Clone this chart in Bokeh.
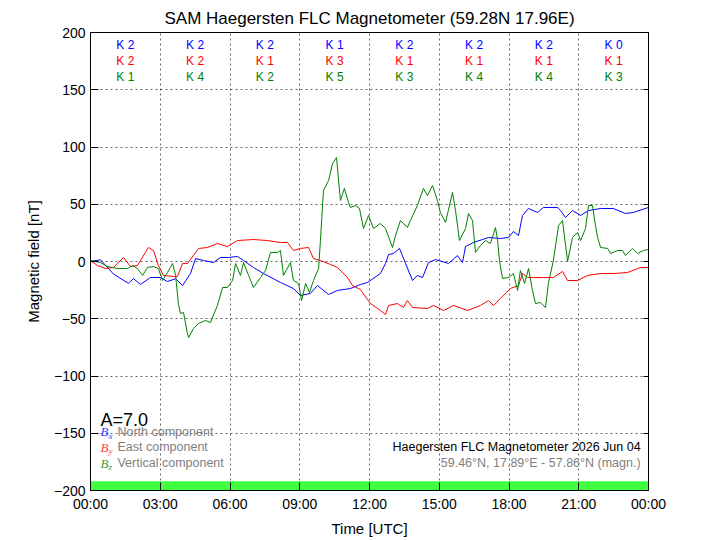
from bokeh.plotting import figure
from bokeh.models import Range1d, FixedTicker, LinearAxis, ColumnDataSource, CustomJSTickFormatter
from bokeh.core.properties import value
from bokeh.embed import file_html
from bokeh.resources import INLINE

# ---------------- data ----------------
title_text = "SAM Haegersten FLC Magnetometer (59.28N 17.96E)"

x_tick_values = [0, 3, 6, 9, 12, 15, 18, 21, 24]
x_tick_labels = ["00:00", "03:00", "06:00", "09:00", "12:00", "15:00", "18:00", "21:00", "00:00"]
y_tick_values = [-200, -150, -100, -50, 0, 50, 100, 150, 200]
y_tick_labels = ["\u2212200", "\u2212150", "\u2212100", "\u221250", "0", "50", "100", "150", "200"]

# North component (Bx)
bx_hours = [0.0, 0.43, 0.99, 1.63, 1.85, 2.15, 2.58, 3.01, 3.31, 3.66, 3.96, 4.30, 4.52, 4.86,
            5.29, 5.59, 5.94, 6.32, 6.58, 7.01, 7.44, 8.17, 8.73, 9.03, 9.46, 9.76, 10.24,
            10.62, 11.18, 11.61, 11.91, 12.47, 12.69, 12.82, 13.03, 13.29, 13.55, 13.85,
            14.06, 14.28, 14.54, 14.84, 15.40, 15.78, 16.00, 16.13, 16.47, 16.86, 17.12,
            17.63, 17.98, 18.19, 18.41, 18.58, 18.84, 19.23, 19.48, 20.09, 20.22, 20.43,
            20.73, 21.08, 21.42, 21.94, 22.49, 23.01, 23.35, 24.0]
bx_values = [0.0, 1.5, -11.0, -19.0, -15.0, -20.0, -14.0, -14.0, -17.5, -15.0, -21.0, -10.5, 2.6, 0.9,
             -0.9, 3.5, 3.5, 4.4, 0.9, -5.2, -10.5, -18.3, -23.6, -29.7, -27.9, -21.0, -28.8,
             -25.3, -23.6, -20.1, -18.3, -10.5, -1.7, 6.1, 7.0, 11.4, -1.7, -16.6,
             -12.2, -14.0, -0.9, 1.7, -1.7, 5.2, -0.9, 13.1, 16.6, 19.2, 21.0,
             20.1, 21.0, 26.2, 22.7, 40.2, 46.3, 42.8, 47.2, 47.2, 44.5, 38.4,
             44.5, 40.2, 44.5, 46.3, 46.3, 41.9, 42.8, 47.2]

# East component (By)
by_hours = [0.0, 0.30, 0.65, 0.99, 1.42, 1.72, 2.02, 2.49, 2.71, 2.92, 3.14, 3.57, 3.74, 3.96,
            4.17, 4.65, 5.03, 5.46, 5.89, 6.32, 7.01, 7.61, 8.17, 8.47, 8.73, 9.03, 9.38,
            9.59, 9.89, 10.32, 10.62, 11.05, 11.27, 11.61, 12.04, 12.47, 12.69, 12.82, 13.20,
            13.46, 13.63, 13.85, 14.49, 14.75, 15.18, 15.61, 16.22, 16.77, 17.12, 17.33,
            17.63, 18.06, 18.41, 18.58, 18.80, 19.05, 19.48, 19.91, 20.30, 20.52, 20.95,
            21.38, 21.94, 22.49, 23.10, 23.66, 24.0]
by_values = [0.9, -3.5, -6.1, -5.2, 3.5, -4.4, -3.5, 12.2, 9.6, -3.5, -12.2, -13.1, -13.1, -1.7,
             -1.7, 11.4, 12.2, 15.7, 13.1, 18.3, 19.2, 18.3, 16.6, 16.6, 9.6, 11.4, 12.2,
             2.6, 0.9, -2.6, -5.2, -14.0, -21.0, -24.5, -36.7, -42.8, -46.3, -38.4, -36.7,
             -40.2, -34.1, -40.2, -41.0, -38.4, -42.8, -38.4, -42.8, -38.4, -34.1, -38.4,
             -32.3, -23.6, -21.0, -10.5, -14.0, -14.0, -14.0, -14.0, -8.7, -16.6, -16.6,
             -12.2, -10.5, -10.5, -9.6, -5.2, -5.2]

# Vertical component (Bz)
bz_hours = [0.0, 0.43, 0.73, 1.16, 1.59, 1.81, 2.02, 2.24, 2.45, 2.71, 2.92, 3.10, 3.31, 3.53,
            3.66, 3.78, 3.87, 4.00, 4.17, 4.22, 4.43, 4.65, 4.95, 5.16, 5.46, 5.68, 5.89,
            6.11, 6.24, 6.45, 6.58, 6.80, 7.01, 7.31, 7.53, 7.74, 8.04, 8.17, 8.30, 8.60,
            8.73, 8.95, 9.08, 9.25, 9.42, 9.59, 9.81, 9.89, 10.02, 10.24, 10.41, 10.58,
            10.75, 10.92, 11.10, 11.18, 11.40, 11.57, 11.74, 11.96, 12.17, 12.47, 12.69,
            12.99, 13.12, 13.33, 13.63, 13.76, 14.06, 14.32, 14.49, 14.71, 14.92, 15.05,
            15.27, 15.57, 15.70, 15.87, 16.13, 16.26, 16.43, 16.56, 16.77, 16.99, 17.20,
            17.42, 17.51, 17.59, 17.72, 17.98, 18.19, 18.37, 18.49, 18.67, 18.84, 19.01,
            19.14, 19.35, 19.57, 19.70, 19.91, 20.13, 20.30, 20.52, 20.73, 20.95, 21.08,
            21.29, 21.42, 21.59, 21.72, 21.81, 21.94, 22.24, 22.37, 22.67, 22.88, 23.01,
            23.31, 23.53, 23.78, 24.0]
bz_values = [0.9, -0.9, -4.4, -6.1, -6.1, -3.5, -6.1, -12.2, -5.2, -4.4, -6.1, -16.6, -9.6, -1.7,
             -12.2, -36.7, -45.4, -44.5, -62.9, -66.4, -58.5, -54.1, -51.5, -53.3, -38.4, -22.7, -22.7,
             -16.6, -1.7, -12.2, -0.9, -12.2, -22.7, -14.0, -7.9, 7.9, 7.9, 9.6, -12.2, -0.9,
             -16.6, -19.2, -34.1, -19.2, -27.1, -16.6, -6.1, 18.3, 62.0, 70.7, 85.6, 90.8,
             53.3, 63.8, 51.5, 47.2, 48.9, 46.3, 28.8, 40.2, 28.8, 33.2, 28.8,
             12.2, 22.7, 35.8, 29.7, 35.8, 48.9, 63.8, 57.6, 66.4, 53.3, 42.8,
             34.1, 60.3, 44.5, 18.3, 28.8, 41.9, 35.8, 7.9, 14.0, 18.3, 15.7,
             29.7, 18.3, 0.9, -14.8, -14.0, -10.5, -25.3, -7.9, -19.2, -6.1, -25.3,
             -36.7, -35.8, -40.2, -18.3, 0.9, 31.4, 35.8, 0.0, 21.0, 25.3, 18.3,
             28.8, 48.9, 48.9, 31.4, 21.0, 12.2, 11.4, 7.0, 9.6, 9.6, 5.2,
             11.4, 7.0, 9.6, 10.5]

# K indices per 3-hour interval
k_north = [2, 2, 2, 1, 2, 2, 2, 0]
k_east = [2, 2, 1, 3, 1, 1, 1, 1]
k_vertical = [1, 4, 2, 5, 3, 4, 4, 3]

a_index_text = "A=7.0"
legend_labels = ["North component", "East component", "Vertical component"]
legend_subscripts = ["x", "y", "z"]
station_line1 = "Haegersten FLC Magnetometer 2026 Jun 04"
station_line2 = "59.46\u00b0N, 17.89\u00b0E - 57.86\u00b0N (magn.)"

# ---------------- styling ----------------
FONT = "Liberation Sans"
C_BLUE, C_RED, C_GREEN = "#0000ff", "#ff0000", "#008000"

p = figure(width=720, height=540, output_backend="svg", toolbar_location=None,
           x_range=Range1d(0, 24), y_range=Range1d(-200, 200),
           min_border_left=90, min_border_right=72, min_border_top=32, min_border_bottom=50,
           background_fill_color="white", border_fill_color="white")

p.title.text = title_text
p.title.align = "center"
p.title.text_font = FONT
p.title.text_font_size = "17px"
p.title.text_font_style = "normal"
p.title.text_color = "black"

p.outline_line_color = "black"
p.outline_line_width = 1
p.outline_line_alpha = 1

# axes
xa = p.xaxis[0]
xa.ticker = FixedTicker(ticks=x_tick_values)
xa.major_label_overrides = {v: l for v, l in zip(x_tick_values, x_tick_labels)}
xa.axis_label = "Time [UTC]"
ya = p.yaxis[0]
ya.ticker = FixedTicker(ticks=y_tick_values)
ya.major_label_overrides = {v: l for v, l in zip(y_tick_values, y_tick_labels)}
ya.axis_label = "Magnetic field [nT]"
for ax in (xa, ya):
    ax.major_tick_in = 8
    ax.major_tick_out = 0
    ax.minor_tick_in = 0
    ax.minor_tick_out = 0
    ax.axis_line_color = "black"
    ax.major_tick_line_color = "black"
    ax.major_label_text_font = FONT
    ax.major_label_text_font_size = "14px"
    ax.major_label_text_color = "black"
    ax.axis_label_text_font = FONT
    ax.axis_label_text_font_size = "15px"
    ax.axis_label_text_font_style = "normal"
    ax.axis_label_text_color = "black"
xa.major_label_standoff = 5
xa.axis_label_standoff = 5
ya.major_label_standoff = 5
ya.axis_label_standoff = 9

# right-hand inward ticks, no labels
ra = LinearAxis(ticker=FixedTicker(ticks=y_tick_values), major_tick_in=5, major_tick_out=0,
                minor_tick_in=0, minor_tick_out=0,
                formatter=CustomJSTickFormatter(code="return '';"),
                major_label_standoff=0, axis_line_color="black")
p.add_layout(ra, "right")

for g in (p.xgrid[0], p.ygrid[0]):
    g.grid_line_color = "black"
    g.grid_line_alpha = 0.6
    g.grid_line_dash = "2 3"
    g.grid_line_width = 1

# activity band at bottom
p.quad(left=[x_tick_values[0]], right=[x_tick_values[-1]], bottom=[-200], top=[-192],
       fill_color="#40ff40", line_color=None)

# traces
p.line(bx_hours, bx_values, line_color=C_BLUE, line_width=1)
p.line(by_hours, by_values, line_color=C_RED, line_width=1)
p.line(bz_hours, bz_values, line_color=C_GREEN, line_width=1)

# K indices
centers = [i * 3 + 1.5 for i in range(len(k_north))]
for ks, col, yv in ((k_north, C_BLUE, 189.5), (k_east, C_RED, 175.3), (k_vertical, C_GREEN, 161.3)):
    src = ColumnDataSource(dict(x=centers, y=[yv] * len(ks), t=["K %d" % k for k in ks]))
    p.text(x="x", y="y", text="t", source=src, text_color=col, text_font=value(FONT),
           text_font_size="12px", text_align="center", text_baseline="middle")

# A index
p.text(x=[0.43], y=[-138.5], text=[a_index_text], text_color="black", text_font=value(FONT),
       text_font_size="18px", text_align="left", text_baseline="middle")

# legend
leg_cols = ["#3a3aff", "#ff4040", "#3a9a3a"]
leg_y = [-148.8, -162.4, -176.4]
for lab, sub, col, yv in zip(legend_labels, legend_subscripts, leg_cols, leg_y):
    p.text(x=[0.43], y=[yv], text=["B"], text_color=col, text_font=value("Liberation Serif"),
           text_font_style="italic", text_font_size="13px", text_align="left", text_baseline="middle")
    p.text(x=[0.43], y=[yv], text=[sub], text_color=col, text_font=value("Liberation Serif"),
           text_font_style="italic", text_font_size="9px", text_align="left", text_baseline="middle",
           x_offset=8, y_offset=4)
    p.text(x=[1.16], y=[yv], text=[lab], text_color="#808080", text_font=value(FONT),
           text_font_size="12.5px", text_align="left", text_baseline="middle")

# station info
p.text(x=[23.66], y=[-161.9], text=[station_line1], text_color="black", text_font=value(FONT),
       text_font_size="12.5px", text_align="right", text_baseline="middle")
p.text(x=[23.66], y=[-176.4], text=[station_line2], text_color="#808080", text_font=value(FONT),
       text_font_size="12.5px", text_align="right", text_baseline="middle")

open("out.html", "w").write(file_html(p, INLINE))
